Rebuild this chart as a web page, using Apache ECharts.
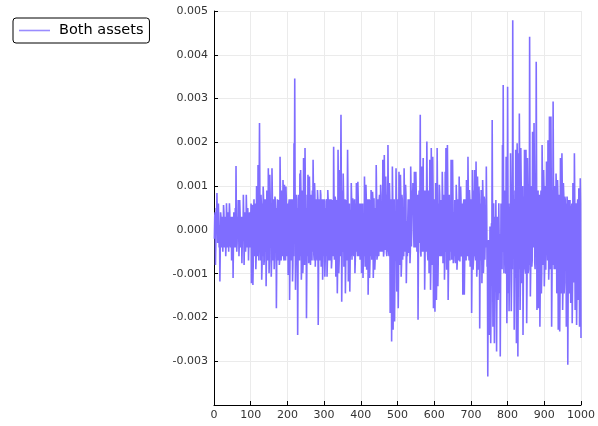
<!DOCTYPE html>
<html>
<head>
<meta charset="utf-8">
<script src="https://cdn.jsdelivr.net/npm/echarts@6/dist/echarts.min.js"></script>
<style>
html,body{margin:0;padding:0;background:#fff;}
#chart{width:598px;height:426px;}
</style>
</head>
<body>
<div id="chart"></div>
<script>
// Series name and x step (observation index 1..1000)
const seriesName = "Both assets";
const xStep = 1;
const bothAssets = [
 -.0002,.0003,.0004,-.0008,-.0003,.0005,.0002,.00084,.0003,-.0003,-.0002,.0006,.0002,-.0004,.0001,-.00118,-.0005,.0004,.0003,-.0002,
 -.0004,.0003,.0002,-.0005,-.0002,.00057,.0004,-.0003,-.0004,.0002,.0003,-.0006,-.0003,.00061,.0003,-.0002,-.0004,.0004,.0002,-.0005,
 .0002,.00061,.0004,-.0003,-.0004,.0002,.0003,-.0007,-.0003,.0003,.0002,-.0011,-.0003,.0004,.0003,-.0004,-.0002,.0005,-.0004,.00146,
 .0002,-.0005,-.0003,.0003,-.0002,.00068,.0004,-.0006,-.0003,.00068,.0004,-.0002,-.0004,.0001,.0003,-.00076,-.0003,.0003,-.0002,.0008,
 .0003,-.0008,-.0003,.0004,.0002,-.0005,-.0003,.0008,.0004,-.0003,-.0004,.0005,.0002,-.0007,-.0003,.0003,.0004,-.0004,-.0002,.0002,
 .0006,-.00122,-.0006,.00057,.0005,-.00126,-.0007,.0004,.0007,-.0006,-.0006,.00053,.0006,-.0009,-.0006,.001,.0007,-.0005,-.0006,.00148,
 .0007,-.0007,-.0007,.00244,.0008,-.0003,-.0007,.0008,.0006,-.00114,-.0008,.0006,-.0006,.00099,.0007,-.0008,-.0007,.0007,.0007,-.0005,
 .0007,-.00129,-.0006,.0009,.0007,-.0006,-.0007,.00141,.0008,-.00099,-.0007,.00126,.0008,-.0004,.0006,-.00107,-.0007,.00141,.0008,-.0007,
 -.0007,.0005,.0007,-.0009,-.0006,.00076,.0007,-.0004,.0005,-.00179,-.0007,.0004,.0007,-.0006,-.0007,.00068,.0007,-.0008,-.0007,.00167,
 .0008,-.0005,-.0007,.0009,.0007,-.0004,-.0006,.00114,.0008,-.00065,-.0007,.00103,.0007,-.0006,-.0007,.00099,.0007,-.0005,-.0006,.0004,
 .0006,-.00103,-.0007,.00061,.0007,-.0016,-.0008,.0005,.0007,-.0007,-.0007,.00061,.0007,-.00118,-.0008,.0004,-.0006,.00198,.0005,.00346,
 .0008,-.00137,-.0008,.0006,.0008,-.0008,.0005,-.0024,-.0008,.0007,.0008,-.0006,-.0007,.00129,-.0006,.00137,.0008,-.00114,-.0008,.0009,
 .0008,-.00099,-.0007,.00164,.0008,-.0005,-.0008,.00187,.0008,-.0007,.0005,-.00202,-.0008,.0008,-.0006,.00126,.0008,-.00076,-.0008,.00122,
 .0007,-.00068,-.0008,.0007,.0008,-.0005,-.0007,.0009,-.0005,.0016,.0008,-.00057,-.0007,.00107,.0008,-.00084,-.0008,.0005,.0007,-.0006,
 -.0007,.00091,.0007,-.00217,-.0008,.0004,.0007,-.0007,-.0007,.00091,.0008,-.00084,-.0007,.0003,.0007,-.00114,-.0007,.0003,.0007,-.0006,
 .0007,-.00107,-.0007,.0005,-.0006,.00065,.0007,-.00107,-.0007,.00091,.0007,-.0005,-.0007,.0006,.0007,-.0007,-.0006,.0004,.0007,-.00088,
 -.0007,.00068,.0007,-.0004,-.0006,.0019,.0008,-.00068,-.0007,.00076,.0007,-.00107,-.0007,.00068,.0007,-.00145,-.0008,.00183,.0008,-.00099,
 -.0007,.00137,.0008,-.0006,-.0006,.00263,.0008,-.00164,-.0007,.0009,-.0005,.00129,.0008,-.00084,-.0007,.0005,.0007,-.00145,-.0008,.00068,
 .0007,-.0007,-.0007,.00183,.0008,-.00118,-.0007,.0003,.0006,-.00141,-.0007,.00046,-.0006,.00107,.0007,-.00068,-.0007,.00072,.0006,-.00053,
 -.0006,.0005,.0007,-.00099,-.0007,.0006,-.0005,.00107,.0007,-.0004,-.0006,.0011,.0007,-.00038,-.0006,.00008,.0006,-.00068,-.0007,.00008,
 .0006,-.00099,-.0007,.0002,.0006,-.0011,-.0007,.00023,-.0006,.00122,.0007,-.00084,-.0007,.00103,.0007,-.00091,-.0007,.0005,.0007,-.00148,
 -.0007,.0004,.0007,-.0011,-.0007,.00068,-.0006,.00091,.0007,-.00068,-.0007,.00087,.0007,-.0011,-.0007,.00072,.0007,-.00091,-.0007,.0005,
 -.0006,.00148,.0008,-.00068,-.0006,.0004,.0007,-.00053,-.0006,.00068,.0008,-.0003,-.0005,.00103,.0008,-.00038,-.0005,.0006,-.0005,.0016,
 .0008,-.00061,-.0005,.00171,.0008,-.00046,-.0005,.00122,.0008,-.00053,-.0006,.0008,-.0005,.00194,.0008,-.00053,-.0006,.00107,.0007,-.0019,
 -.0008,.0006,.0007,-.00255,-.0008,.00145,.0008,-.00228,-.0009,.0005,.0007,-.00209,-.0009,.00015,-.0007,.00141,.0007,-.00141,-.0008,.0007,
 .0007,-.00179,-.0008,.00133,.0008,-.0008,-.0007,.00126,.0008,-.00107,-.0008,.0008,.0007,-.00068,-.0007,.0005,-.0006,.00141,.0008,-.00038,
 -.0005,.00103,.0008,-.00122,-.0007,.0002,-.0006,.00023,.0007,-.00053,-.0005,.0006,.0007,-.00076,-.0005,.00145,.0009,-.00038,-.0004,.0009,
 .0005,.00107,.0009,-.00008,-.0004,.00133,.001,.0003,-.0004,.00133,.0009,-.00008,-.0005,.0004,.0008,-.00205,-.0006,.0007,.0009,-.0003,
 .0006,.00263,-.0005,-.00061,.0009,.00145,-.0005,-.0005,.0009,.00164,-.0005,-.0004,.0009,-.00137,-.0007,.0008,.0009,-.0005,-.0005,.00202,
 .0008,-.00057,-.0007,.0009,.0008,-.00099,-.0007,.0016,.0009,-.00137,-.0008,.00187,.0009,-.0008,-.0007,.00167,.0009,-.00179,-.0009,.0007,
 .0007,-.00187,-.0009,.00107,.0008,-.0016,-.0009,.00187,.0008,-.00129,-.0007,.0006,-.0006,.00103,.0008,-.00038,-.0006,.00068,.0007,-.00053,
 -.0006,.00133,.0008,-.00076,-.0007,.0007,.0008,-.00114,-.0007,.00133,-.0005,.00187,.0008,-.00091,-.0007,.00194,.0009,-.0016,-.0009,.0005,
 .0008,-.00038,-.0007,.00068,-.0005,.0016,.0008,-.00068,-.0006,.0016,.0008,-.00076,-.0007,.0004,-.0006,.00068,.0007,-.00076,-.0007,.00103,
 .0007,-.00091,-.0007,.00053,.0007,-.0005,-.0007,.00122,.0007,-.00072,-.0007,.00099,.0007,-.00061,-.0006,.00015,.0006,-.00148,-.0008,.00061,
 .0007,-.00148,-.0008,.0005,.0007,-.0006,-.0007,.00114,.0008,-.0004,-.0006,.00167,.0008,-.00046,-.0007,.00091,.0007,-.00084,-.0007,.00061,
 .0007,-.0019,-.0008,.00137,.0008,-.00091,-.0007,.0009,-.0006,.00137,.0008,-.0006,-.0007,.00156,.0008,-.00107,-.0008,.00122,.0008,-.00091,
 -.0007,.00099,.0007,-.00225,-.0008,.0006,-.0007,.00091,.0008,-.00122,-.0007,.00114,.0008,-.00099,-.0007,.00076,.0007,-.00068,-.0007,.0004,
 -.0004,.00145,.0005,-.00084,-.0006,-.00335,-.0015,-.00023,-.0005,-.0024,-.0016,.00008,-.0005,-.00259,-.0016,.00015,-.0006,.00251,.0002,-.00221,
 -.0012,.00061,-.0003,-.00259,-.0014,.0003,-.001,.00068,-.0004,-.00278,-.0012,.0003,-.0002,-.0016,-.0011,.00061,-.0002,-.00145,-.0001,-.00289,
 -.0011,.0006,.0006,-.00046,-.0009,.00194,-.0005,.00331,.0009,-.00099,-.001,.0009,.0009,-.0005,-.001,.00167,.0009,-.00213,-.0009,.00327,
 .0009,-.00145,.0006,-.00186,-.0011,.00053,-.0009,.00175,.001,-.00186,-.0011,.0008,-.0009,.00479,.0011,-.0006,.0007,-.00228,-.0011,.0009,
 -.0011,.00183,.0009,-.00259,-.0011,.00198,.001,-.00289,-.0012,.00175,-.0009,.00266,.001,-.00183,-.0011,.00187,.0011,-.00122,-.0012,.0005,
 .001,-.0024,-.0011,.00076,-.0009,.00183,.0011,-.00091,-.001,.00183,.001,-.00213,-.0011,.00164,.001,-.00099,-.0009,.001,-.0008,.00441,
 .0012,-.00152,-.0009,.00084,.001,-.00084,-.0007,.00224,.0012,-.00023,-.0004,.00244,.0013,-.00076,-.0009,.0012,-.0006,.00384,.0012,-.00183,
 -.0011,.00084,.0009,-.00179,-.0012,.00053,.0008,-.00221,-.0012,.00061,.0009,-.00145,-.001,.00194,.0012,-.0003,-.0008,.00137,.001,-.00129,
 -.0009,.0008,.001,-.00091,-.0009,.00156,.0012,-.0003,-.0007,.00205,.0011,-.00114,-.0008,.00259,.0012,-.0005,-.0009,.00259,.001,-.00221,
 -.0011,.0006,-.0008,.00293,.0011,-.0004,-.0009,.00084,.001,-.00038,-.0009,.00129,.0009,-.00145,-.0011,.00114,.0008,-.00228,-.0012,.0008,
 .0008,-.00232,-.0012,.00164,.0009,-.00145,-.0012,.00175,.0009,-.00183,-.0012,.00107,.0008,-.00145,-.0012,.00076,.0007,-.0008,.0006,-.00221,
 -.0013,.00076,.0006,-.00308,-.0014,.00068,.0007,-.00145,-.0013,.00068,.0007,-.00167,-.0014,.00046,.0006,-.00213,-.0013,.00107,.0008,-.0009,
 -.0012,.00175,.0007,-.00183,-.0013,.00061,.0006,-.00217,-.0014,.00053,.0007,-.0016,-.0013,.00095,.0006,-.00221,-.0014,.00118,.0006,-.00247
];
// Axis ticks
const xTicks = [0,100,200,300,400,500,600,700,800,900,1000];
const yTicks = [-0.003,-0.002,-0.001,0,0.001,0.002,0.003,0.004,0.005];

const chart = echarts.init(document.getElementById('chart'), null, {renderer:'canvas'});
const font = 'DejaVu Sans';
const pairs = bothAssets.map((v, i) => [(i + 1) * xStep, v]);
const lineColor = '#7f6dff';

chart.setOption({
  backgroundColor: '#ffffff',
  animation: false,
  textStyle: {fontFamily: font},
  grid: {left: 214, top: 11, width: 369, height: 394, containLabel: false},
  legend: {
    left: 13, top: 18,
    padding: [5, 6, 5, 6],
    icon: 'rect',
    itemWidth: 31, itemHeight: 1.6, itemGap: 8,
    borderColor: '#000', borderWidth: 1, borderRadius: 3,
    backgroundColor: '#fff',
    itemStyle: {color: '#9a8cff'},
    textStyle: {fontFamily: font, fontSize: 14.5, color: '#000', padding: [0, 0, 0, 4]},
    data: [seriesName]
  },
  xAxis: {
    type: 'value', min: 0, max: 1000, interval: 100,
    axisLine: {show: true, onZero: false, lineStyle: {color: '#000', width: 1}},
    axisTick: {show: true, inside: true, length: 4, lineStyle: {color: '#000'}},
    axisLabel: {fontFamily: font, fontSize: 11, color: '#333', margin: 5,
      formatter: v => xTicks.includes(v) ? String(v) : ''},
    splitLine: {show: true, lineStyle: {color: '#ebebeb', width: 1}}
  },
  yAxis: {
    type: 'value', min: -0.004, max: 0.005, interval: 0.001,
    axisLine: {show: true, onZero: false, lineStyle: {color: '#000', width: 1}},
    axisTick: {show: true, inside: true, length: 4, lineStyle: {color: '#000'}},
    axisLabel: {fontFamily: font, fontSize: 11, color: '#333', margin: 6,
      formatter: v => {
        const t = yTicks.find(k => Math.abs(k - v) < 1e-9);
        return t === undefined ? '' : t.toFixed(3);
      }},
    splitLine: {show: true, lineStyle: {color: '#ebebeb', width: 1}}
  },
  series: [{
    name: seriesName,
    type: 'line',
    data: pairs,
    symbol: 'none',
    sampling: null,
    lineStyle: {color: lineColor, width: 1.6},
    itemStyle: {color: lineColor}
  }]
});
</script>
</body>
</html>
